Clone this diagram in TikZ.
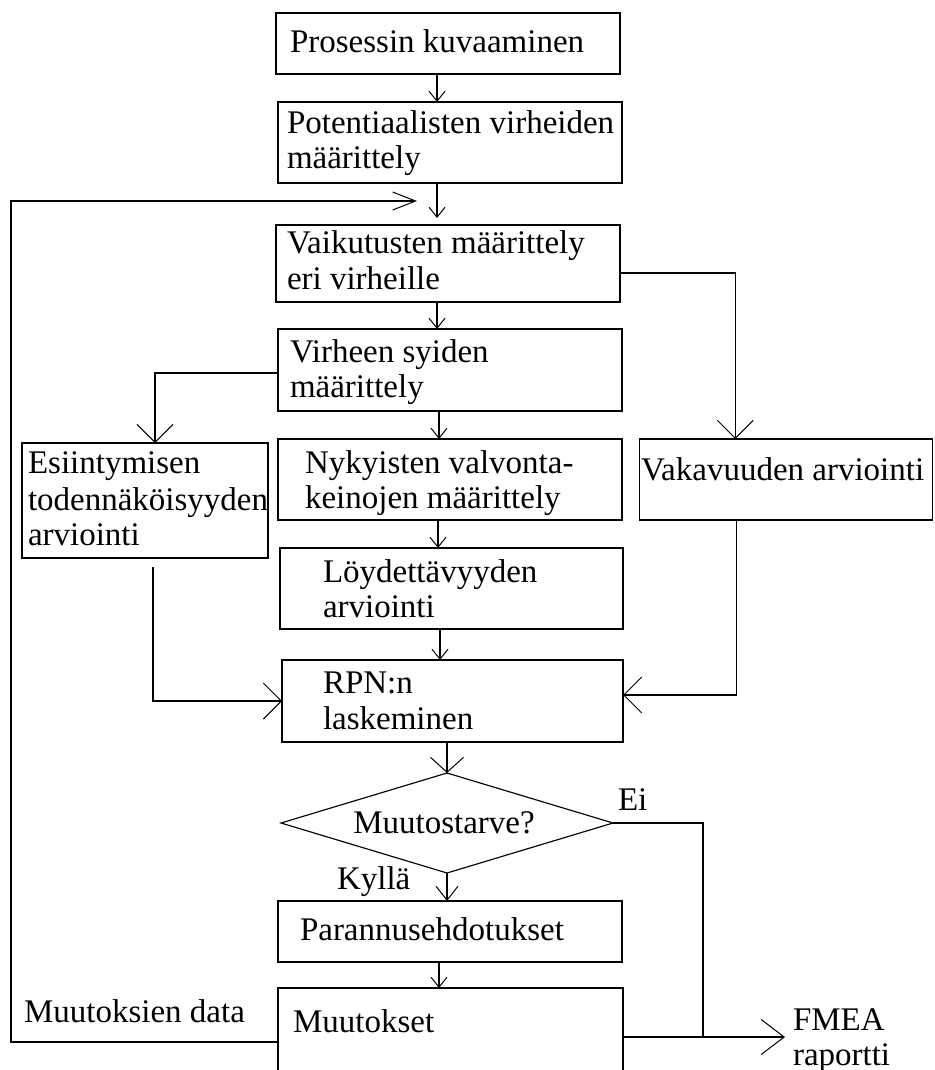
\documentclass[tikz,border=0pt]{standalone}
\usepackage{fontspec}
\setmainfont{Liberation Serif}
\usetikzlibrary{arrows.meta,shapes.geometric}
\begin{document}
\begin{tikzpicture}[x=1pt,y=-1pt,
  every node/.style={font=\fontsize{33}{37}\selectfont},
  line/.style={line width=1.15pt},
  box/.style={draw,line width=1.15pt,rectangle,inner sep=0pt,outer sep=0pt,anchor=north west},
  txt/.style={inner sep=0pt,outer sep=0pt,anchor=base west},
  sa/.style={line,-{Straight Barb[length=10pt,width=16pt,line width=1pt]}},
  ma/.style={line,-{Straight Barb[length=15pt,width=33pt,line width=1pt]}},
  ka/.style={line,-{Straight Barb[length=14pt,width=22pt,line width=1pt]}},
  fa/.style={line,-{Straight Barb[length=23pt,width=18pt,line width=1pt]}},
  ba/.style={line,-{Straight Barb[length=18pt,width=36pt,line width=1pt]}},
  ra/.style={line,-{Straight Barb[length=23pt,width=35pt,line width=1pt]}}]
\useasboundingbox[fill=white] (0,0) rectangle (934,1070);

% boxes
\node[box,minimum width=344pt,minimum height=61pt] (b1) at (276,13) {};
\node[box,minimum width=344pt,minimum height=81pt] (b2) at (278,102) {};
\node[box,minimum width=344pt,minimum height=77pt] (b3) at (276,225) {};
\node[box,minimum width=344pt,minimum height=82pt] (b4) at (278,329) {};
\node[box,minimum width=246pt,minimum height=115pt] (esi) at (22,443) {};
\node[box,minimum width=344pt,minimum height=81pt] (nyk) at (278,439) {};
\node[box,minimum width=343pt,minimum height=81pt] (loyd) at (280,548) {};
\node[box,minimum width=341pt,minimum height=82pt] (rpn) at (282,660) {};
\node[box,minimum width=293pt,minimum height=81pt] (vak) at (639.5,439) {};
\node[draw,line width=1.15pt,diamond,aspect=3.3,inner sep=0pt,outer sep=0pt,
      minimum width=332pt,minimum height=100pt] (dia) at (447,823) {\hspace*{-6pt}Muutostarve?};
\node[box,minimum width=344pt,minimum height=61pt] (par) at (278,901) {};
\node[box,minimum width=345pt,minimum height=108pt] (muu) at (278,988) {};

% texts
\node[txt] (t1) at (290,53) {Prosessin kuvaaminen};
\node[txt] (t2a) at (287,133) {Potentiaalisten virheiden};
\node[txt] (t2b) at (287,168) {määrittely};
\node[txt] (t3a) at (287,253) {Vaikutusten määrittely};
\node[txt] (t3b) at (287,289) {eri virheille};
\node[txt] (t4a) at (290,362) {Virheen syiden};
\node[txt] (t4b) at (290,397) {määrittely};
\node[txt] (tea) at (28,473) {Esiintymisen};
\node[txt] (teb) at (28,510) {todennäköisyyden};
\node[txt] (tec) at (28,545) {arviointi};
\node[txt] (tna) at (305,473) {Nykyisten valvonta-};
\node[txt] (tnb) at (305,508) {keinojen määrittely};
\node[txt] (tla) at (323,582) {Löydettävyyden};
\node[txt] (tlb) at (323,617) {arviointi};
\node[txt] (tv) at (641,480) {Vakavuuden arviointi};
\node[txt] (tra) at (323,693) {RPN:n};
\node[txt] (trb) at (323,729) {laskeminen};
\node[txt] (tei) at (618,810) {Ei};
\node[txt] (tky) at (337,889) {Kyllä};
\node[txt] (tp) at (300,940) {Parannusehdotukset};
\node[txt] (tm) at (293,1032) {Muutokset};
\node[txt] (tmd) at (24,1022) {Muutoksien data};
\node[txt] (tfa) at (793,1030) {FMEA};
\node[txt] (tfb) at (793,1065) {raportti};

% helper coordinates
\coordinate (fbl) at (11,1042);
\coordinate (fbend) at (417,201);
\coordinate (junc) at (703,1037);
\coordinate (fmeatip) at (785,1037);

% connectors
\draw[sa] ([xshift=-11pt]b1.south) -- ([xshift=-13pt]b2.north);
\draw[sa] ([xshift=-13pt]b2.south) -- ([xshift=-11pt,yshift=7pt]b3.north);
\draw[fa] (muu.west) -- (fbl) |- (fbend);
\draw[sa] ([xshift=-11pt]b3.south) -- ([xshift=-13pt]b4.north);
\draw[ba] ([yshift=-9.5pt]b3.east) -| ([xshift=-50.75pt]vak.north);
\draw[ba] ([yshift=-3pt]b4.west) -| ([xshift=10pt]esi.north);
\draw[sa] ([xshift=-11pt]b4.south) -- ([xshift=-11pt]nyk.north);
\draw[sa] ([xshift=-12pt]nyk.south) -- ([xshift=-13.5pt]loyd.north);
\draw[sa] ([xshift=-11.5pt]loyd.south) -- ([xshift=-12.5pt]rpn.north);
\draw[ba] ([xshift=8pt,yshift=-9pt]esi.south) |- (rpn.west);
\draw[ba] ([xshift=-49.75pt]vak.south) |- ([yshift=6pt]rpn.east);
\draw[ma] ([xshift=-5.5pt]rpn.south) -- (dia.north);
\draw[ka] (dia.south) -- ([xshift=-3pt]par.north);
\draw[sa] ([xshift=-11pt]par.south) -- ([xshift=-11.5pt]muu.north);
\draw[line] (dia.east) -| (junc);
\draw[ra] ([yshift=5pt]muu.east) -- (fmeatip);
\end{tikzpicture}
\end{document}
